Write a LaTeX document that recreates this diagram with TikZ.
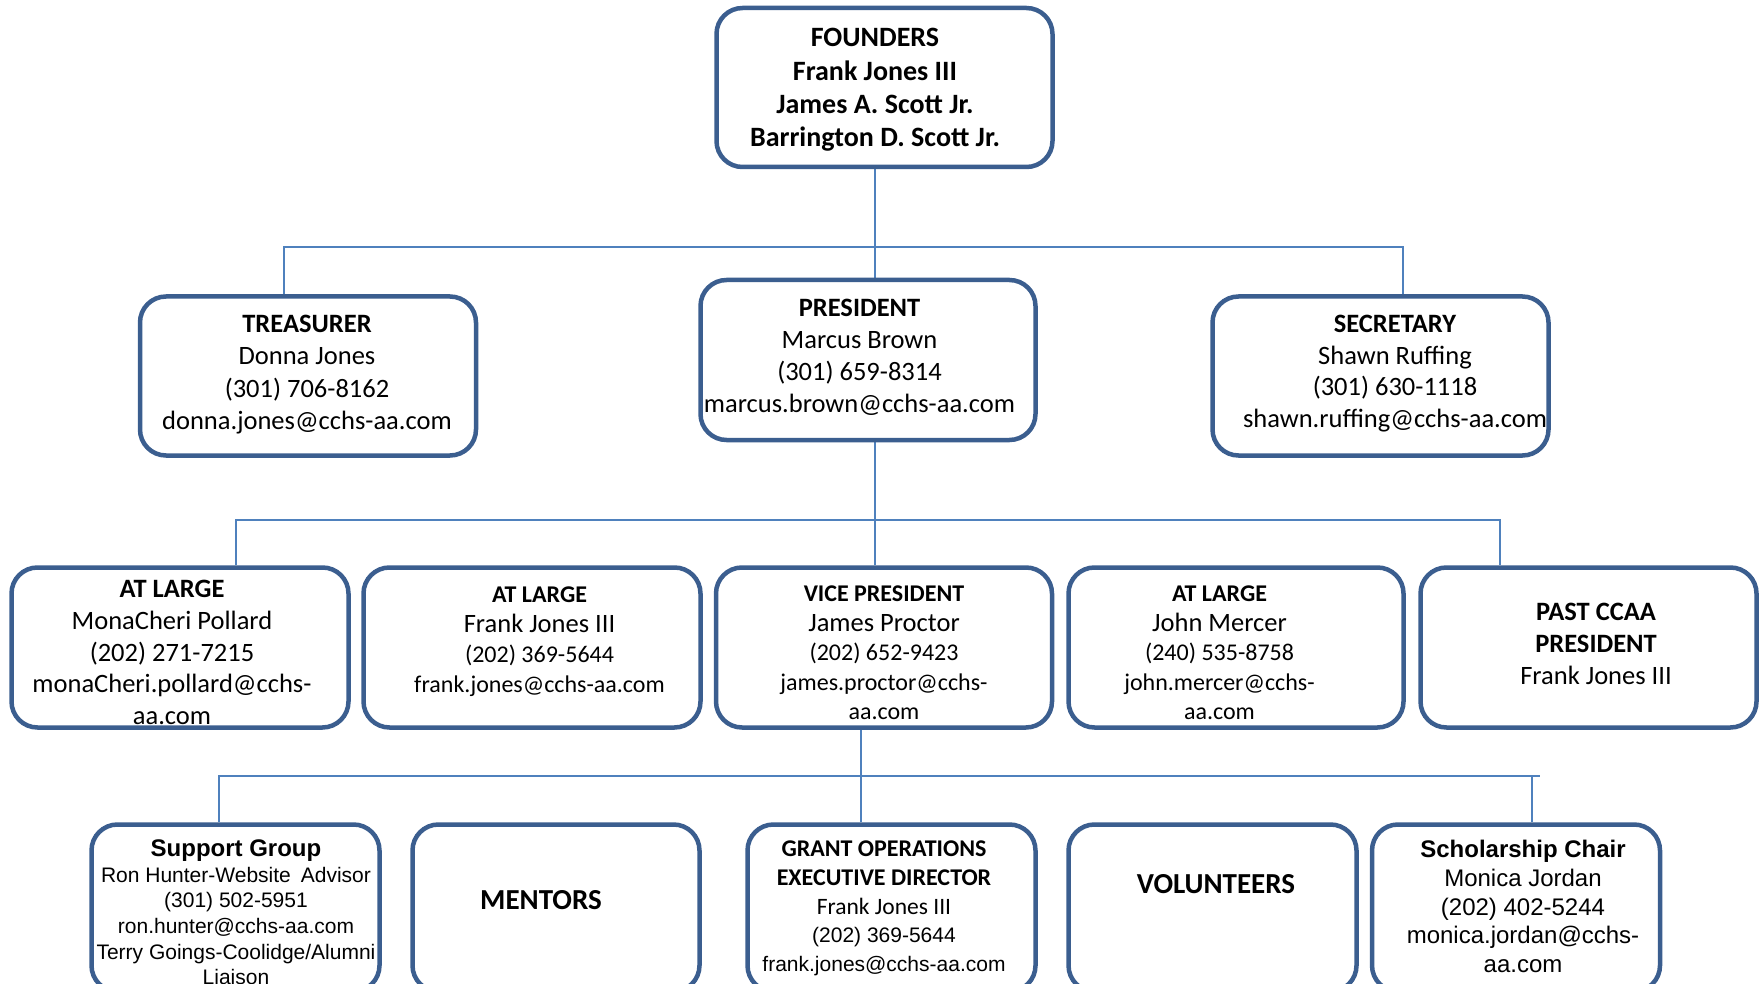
\documentclass[tikz,border=0pt]{standalone}
\usepackage{fontspec}
\setmainfont{Carlito}
\newfontfamily\arialf{Liberation Sans}
\definecolor{boxblue}{HTML}{3B5E8F}
\definecolor{connblue}{HTML}{4F81BD}
\newcommand\setfs[2]{\fontsize{#1}{#2}\selectfont}
\pgfdeclarelayer{bg}
\pgfsetlayers{bg,main}
\begin{document}
\begin{tikzpicture}[x=1pt,y=-1pt,
  box/.style={draw=boxblue, line width=4.5pt, rounded corners=26pt, fill=white, inner sep=0pt},
  conn/.style={draw=connblue, line width=2pt},
  txt/.style={align=center, inner sep=0pt, text=black}]
\useasboundingbox (0,0) rectangle (1764,984);
\clip (0,0) rectangle (1764,984);

% ---- boxes ----
\node[box, minimum width=336pt, minimum height=159pt] (founders) at (884.5,87.5) {};
\node[box, minimum width=336pt, minimum height=159pt] (treas) at (308,376) {};
\node[box, minimum width=335pt, minimum height=160pt] (pres) at (868,360) {};
\node[box, minimum width=336pt, minimum height=159pt] (sec) at (1380.5,376) {};

\node[box, minimum width=337pt, minimum height=160pt] (al1) at (180,647.5) {};
\node[box, minimum width=337pt, minimum height=160pt] (al2) at (532,647.5) {};
\node[box, minimum width=336pt, minimum height=160pt] (vp) at (884,647.5) {};
\node[box, minimum width=335pt, minimum height=160pt] (al3) at (1236,647.5) {};
\node[box, minimum width=336pt, minimum height=160pt] (past) at (1588.5,647.5) {};

\node[box, minimum width=288pt, minimum height=167pt] (sg) at (235.5,908) {};
\node[box, minimum width=287pt, minimum height=167pt] (mentors) at (556,908) {};
\node[box, minimum width=288pt, minimum height=167pt] (grant) at (891.5,908) {};
\node[box, minimum width=288pt, minimum height=167pt] (vol) at (1212.5,908) {};
\node[box, minimum width=288pt, minimum height=167pt] (sch) at (1516,908) {};

% ---- connectors ----
\coordinate (h1l) at (283.5,247.5);
\coordinate (h1m) at (875,247.5);
\coordinate (h1r) at (1403,247.5);
\coordinate (h2l) at (236,520);
\coordinate (h2m) at (875,520);
\coordinate (h2r) at (1500,520);
\coordinate (h3l) at (219,776);
\coordinate (h3m) at (861,776);
\coordinate (h3s) at (1532,776);
\coordinate (h3r) at (1540,776);
\begin{pgfonlayer}{bg}
\draw[conn] (founders.south -| h1m) -- (pres.north -| h1m);
\draw[conn] (treas.north -| h1l) -- (h1l) -- (h1r) -- (sec.north -| h1r);
\draw[conn] (pres.south -| h2m) -- (vp.north -| h2m);
\draw[conn] (al1.north -| h2l) -- (h2l) -- (h2r) -- (past.north -| h2r);
\draw[conn] (vp.south -| h3m) -- (grant.north -| h3m);
\draw[conn] (sg.north -| h3l) -- (h3l) -- (h3r);
\draw[conn] (h3s) -- (sch.north -| h3s);
\end{pgfonlayer}

% ---- texts ----
\node[txt, font=\bfseries\setfs{28}{33.3}] (founders-t) at (875,90)
  {\strut FOUNDERS\\\strut Frank Jones III\\\strut James A. Scott Jr.\\\strut Barrington D. Scott Jr.};

\node[txt, font=\setfs{26.5}{32.3}] (treas-t) at (307,374.5)
  {\strut\textbf{TREASURER}\\\strut Donna Jones\\\strut (301) 706-8162\\\strut donna.jones@cchs-aa.com};
\node[txt, font=\setfs{26.5}{32}] (pres-t) at (859.5,358)
  {\strut\textbf{PRESIDENT}\\\strut Marcus Brown\\\strut (301) 659-8314\\\strut marcus.brown@cchs-aa.com};
\node[txt, font=\setfs{26.5}{31.8}] (sec-t) at (1395,373.7)
  {\strut\textbf{SECRETARY}\\\strut Shawn Ruffing\\\strut (301) 630-1118\\\strut shawn.ruffing@cchs-aa.com};

\node[txt, font=\setfs{26.5}{31.9}] (al1-t) at (172,654.7)
  {\strut\textbf{AT LARGE}\\\strut MonaCheri Pollard\\\strut (202) 271-7215\\\strut monaCheri.pollard@cchs-\\\strut aa.com};
\node[txt, font=\setfs{24}{30}] (al2-t) at (539.5,641)
  {\strut\textbf{AT LARGE}\\{\setfs{26.5}{30}\strut Frank Jones III}\\\strut (202) 369-5644\\\strut frank.jones@cchs-aa.com};
\node[txt, font=\setfs{24}{29.5}] (vp-t) at (884,655)
  {\strut\textbf{VICE PRESIDENT}\\{\setfs{26.5}{29.5}\strut James Proctor}\\\strut (202) 652-9423\\\strut james.proctor@cchs-\\\strut aa.com};
\node[txt, font=\setfs{24}{29.5}] (al3-t) at (1219.5,655)
  {\strut\textbf{AT LARGE}\\{\setfs{26.5}{29.5}\strut John Mercer}\\\strut (240) 535-8758\\\strut john.mercer@cchs-\\\strut aa.com};
\node[txt, font=\setfs{26.5}{32}] (past-t) at (1596,646)
  {\strut\textbf{PAST CCAA}\\\strut\textbf{PRESIDENT}\\\strut Frank Jones III};

\node[txt, font=\arialf\setfs{21}{25.7}] (sg-t) at (236,915.5)
  {{\bfseries\setfs{24}{25.7}\strut Support Group}\\\strut Ron Hunter-Website\hspace{0.2em} Advisor\\\strut (301) 502-5951\\\strut ron.hunter@cchs-aa.com\\\strut Terry Goings-Coolidge/Alumni\\\strut Liaison};
\node[txt, font=\bfseries\setfs{29}{34}] (mentors-t) at (541,900) {MENTORS};
\node[txt, font=\setfs{24}{28.7}] (grant-t) at (884,908.5)
  {\strut\textbf{GRANT OPERATIONS}\\\strut\textbf{EXECUTIVE DIRECTOR}\\{\setfs{23.5}{28.7}\strut Frank Jones III}\\{\arialf\setfs{21}{28.7}\strut (202) 369-5644}\\{\arialf\setfs{21}{28.7}\strut frank.jones@cchs-aa.com}};
\node[txt, font=\bfseries\setfs{29}{34}] (vol-t) at (1216,884) {VOLUNTEERS};
\node[txt, font=\arialf\setfs{24}{28.7}] (sch-t) at (1523,909.5)
  {{\bfseries\strut Scholarship Chair}\\\strut Monica Jordan\\\strut (202) 402-5244\\\strut monica.jordan@cchs-\\\strut aa.com};
\end{tikzpicture}
\end{document}
